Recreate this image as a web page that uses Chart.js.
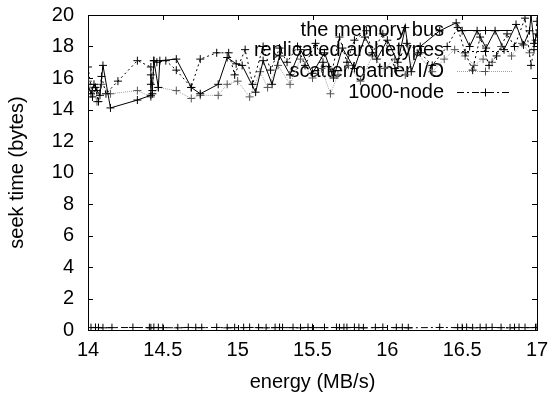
<!DOCTYPE html>
<html>
<head>
<meta charset="utf-8">
<script src="https://cdn.jsdelivr.net/npm/chart.js@4"></script>
<style>
  html, body { margin: 0; padding: 0; background: #fff; }
  #wrap { width: 552px; height: 394px; }
</style>
</head>
<body>
<div id="wrap"><canvas id="seekchart" width="552" height="394"></canvas></div>
<script>
var xTicks = [14, 14.5, 15, 15.5, 16, 16.5, 17];
var yTicks = [0, 2, 4, 6, 8, 10, 12, 14, 16, 18, 20];

var busX = [14.00,14.02,14.04,14.06,14.08,14.10,14.15,14.33,14.42,14.42,14.42,14.43,14.44,14.47,14.48,14.59,14.69,14.75,14.87,14.93,14.99,15.03,15.12,15.17,15.23,15.28,15.35,15.42,15.50,15.58,15.64,15.70,15.78,15.85,15.93,16.00,16.07,16.12,16.16,16.22,16.35,16.46,16.50,16.55,16.60,16.66,16.72,16.78,16.86,16.91,16.95,16.96,16.98,17.00];
var busY = [15.6,15.0,15.6,15.2,14.9,16.8,14.1,14.6,14.9,15.6,16.2,15.2,17.1,15.4,17.1,17.2,15.4,15.0,15.6,17.3,16.9,16.8,15.1,17.1,15.6,17.4,16.2,17.8,16.3,17.6,16.0,17.9,16.6,18.6,17.2,18.4,17.0,19.2,16.4,18.0,19.0,19.5,19.0,18.0,19.0,17.9,19.0,17.8,19.4,18.1,19.0,20.0,18.2,18.8];

var archX = [14.00,14.03,14.05,14.07,14.09,14.12,14.20,14.33,14.42,14.43,14.44,14.46,14.52,14.59,14.69,14.75,14.86,14.94,14.98,15.05,15.10,15.17,15.22,15.28,15.33,15.40,15.45,15.52,15.57,15.63,15.68,15.73,15.78,15.86,15.90,15.97,16.05,16.13,16.22,16.30,16.40,16.47,16.52,16.57,16.62,16.68,16.73,16.80,16.85,16.92,16.96,16.98,17.00];
var archY = [16.7,14.8,15.4,14.5,16.1,15.0,15.8,17.1,16.7,15.0,17.1,17.0,17.1,16.5,15.4,17.2,17.6,17.6,16.2,17.8,15.6,18.0,16.5,17.9,17.0,18.0,16.8,18.2,17.0,16.4,18.6,17.0,18.4,19.0,17.6,18.8,16.6,18.2,17.6,16.8,18.0,19.2,17.6,16.5,18.6,16.8,17.4,18.8,18.0,19.8,16.8,17.8,19.6];

var scatterX = [14.00,14.03,14.06,14.09,14.15,14.33,14.42,14.47,14.59,14.69,14.75,14.87,14.93,15.00,15.08,15.15,15.20,15.27,15.35,15.42,15.50,15.56,15.62,15.67,15.74,15.82,15.90,15.98,16.05,16.12,16.20,16.30,16.38,16.45,16.52,16.58,16.64,16.70,16.76,16.83,16.90,16.95,16.99];
var scatterY = [15.8,15.2,14.5,15.6,15.0,15.2,14.8,15.4,15.2,14.7,14.9,14.9,15.6,15.8,14.8,16.4,15.4,16.8,15.6,17.2,16.0,16.6,15.0,16.2,16.8,15.8,17.4,16.6,17.2,16.2,17.6,16.4,17.2,17.8,17.4,16.8,17.2,17.0,18.0,17.4,18.2,17.6,18.4];

var nodeX = [14.02,14.05,14.07,14.10,14.16,14.30,14.41,14.42,14.44,14.47,14.50,14.60,14.67,14.72,14.76,14.86,14.93,14.98,15.04,15.08,15.14,15.19,15.25,15.28,15.30,15.37,15.42,15.47,15.50,15.58,15.66,15.68,15.71,15.73,15.78,15.81,15.84,15.92,15.97,16.06,16.10,16.14,16.35,16.47,16.50,16.53,16.57,16.62,16.66,16.70,16.76,16.82,16.85,16.88,16.92,16.99,17.00];
var nodeY = [0.15,0.16,0.15,0.14,0.15,0.16,0.15,0.14,0.16,0.15,0.15,0.14,0.16,0.15,0.15,0.16,0.14,0.15,0.15,0.16,0.15,0.14,0.15,0.16,0.15,0.15,0.14,0.16,0.15,0.15,0.16,0.14,0.15,0.15,0.16,0.15,0.14,0.15,0.16,0.15,0.15,0.14,0.16,0.15,0.15,0.16,0.14,0.15,0.15,0.16,0.15,0.14,0.15,0.16,0.15,0.15,0.16];

function pts(xs, ys) {
  return xs.map(function (x, i) { return { x: x, y: ys[i] }; });
}

var FONT = '"Liberation Sans", Arial, Helvetica, sans-serif';
Chart.defaults.font.family = FONT;
Chart.defaults.font.size = 20;
Chart.defaults.color = '#000';

// gnuplot style frame, inward ticks on all four sides, key at top right
var framePlugin = {
  id: 'frame',
  beforeDatasetsDraw: function (chart) {
    var ctx = chart.ctx, a = chart.chartArea;
    var xs = chart.scales.x, ys = chart.scales.y;
    ctx.save();
    ctx.strokeStyle = '#000';
    ctx.lineWidth = 1;
    ctx.beginPath();
    xTicks.forEach(function (v) {
      var px = Math.round(xs.getPixelForValue(v)) + 0.5;
      ctx.moveTo(px, a.bottom); ctx.lineTo(px, a.bottom - 5);
      ctx.moveTo(px, a.top); ctx.lineTo(px, a.top + 5);
    });
    yTicks.forEach(function (v) {
      var py = Math.round(ys.getPixelForValue(v)) + 0.5;
      ctx.moveTo(a.left, py); ctx.lineTo(a.left + 5, py);
      ctx.moveTo(a.right, py); ctx.lineTo(a.right - 5, py);
    });
    ctx.stroke();
    ctx.strokeRect(Math.round(a.left) + 0.5, Math.round(a.top) + 0.5,
      Math.round(a.right - a.left), Math.round(a.bottom - a.top));

    // key
    ctx.font = '20px ' + FONT;
    ctx.textAlign = 'right';
    ctx.textBaseline = 'middle';
    var textRight = a.right - 93, s0 = a.right - 80, s1 = a.right - 25, mid = (s0 + s1) / 2;
    chart.data.datasets.forEach(function (ds, i) {
      var y = a.top + 15 + i * 20.7;
      ctx.fillStyle = '#000';
      ctx.fillText(ds.label, textRight, y);
      var ly = Math.round(y) + 0.5;
      ctx.strokeStyle = ds.borderColor;
      ctx.setLineDash(ds.borderDash || []);
      ctx.beginPath(); ctx.moveTo(s0, ly); ctx.lineTo(s1, ly); ctx.stroke();
      ctx.setLineDash([]);
      ctx.strokeStyle = ds.pointBorderColor;
      ctx.beginPath();
      ctx.moveTo(mid - 4, ly); ctx.lineTo(mid + 4, ly);
      ctx.moveTo(Math.round(mid) + 0.5, ly - 4); ctx.lineTo(Math.round(mid) + 0.5, ly + 4);
      ctx.stroke();
    });
    ctx.restore();
  }
};

function series(label, xs, ys, color, markColor, dash) {
  return {
    label: label,
    data: pts(xs, ys),
    showLine: true,
    borderColor: color,
    borderWidth: 1,
    borderDash: dash,
    pointStyle: 'cross',
    pointRadius: 4,
    pointBorderWidth: 1,
    pointBorderColor: markColor,
    pointBackgroundColor: markColor,
    tension: 0
  };
}

var chart = new Chart(document.getElementById('seekchart').getContext('2d'), {
  type: 'scatter',
  data: {
    datasets: [
      series('the memory bus', busX, busY, '#000', '#000', []),
      series('replicated archetypes', archX, archY, '#000', '#000', [2, 3]),
      series('scatter/gather I/O', scatterX, scatterY, '#a0a0a0', '#555', [1, 1]),
      series('1000-node', nodeX, nodeY, '#000', '#000', [7, 3, 2, 3])
    ]
  },
  options: {
    responsive: false,
    animation: false,
    devicePixelRatio: 1,
    layout: { padding: { top: 15, right: 15, left: 0, bottom: 0 } },
    plugins: { legend: { display: false }, tooltip: { enabled: false } },
    scales: {
      x: {
        type: 'linear', min: 14, max: 17,
        afterBuildTicks: function (s) { s.ticks = xTicks.map(function (v) { return { value: v }; }); },
        afterFit: function (s) { s.height = 64; s.paddingLeft = 0; s.paddingRight = 0; },
        grid: { display: false, drawTicks: false },
        border: { display: false },
        ticks: { padding: 8, maxRotation: 0, autoSkip: false, callback: function (v) { return String(v); } },
        title: { display: true, text: 'energy (MB/s)', padding: { top: 0, bottom: 0 } }
      },
      y: {
        type: 'linear', min: 0, max: 20,
        afterBuildTicks: function (s) { s.ticks = yTicks.map(function (v) { return { value: v }; }); },
        afterFit: function (s) { s.width = 88; s.paddingTop = 0; s.paddingBottom = 0; },
        grid: { display: false, drawTicks: false },
        border: { display: false },
        ticks: { padding: 14, autoSkip: false, callback: function (v) { return String(v); } },
        title: { display: true, text: 'seek time (bytes)', padding: { top: 5, bottom: 0 } }
      }
    }
  },
  plugins: [framePlugin]
});
</script>
</body>
</html>
